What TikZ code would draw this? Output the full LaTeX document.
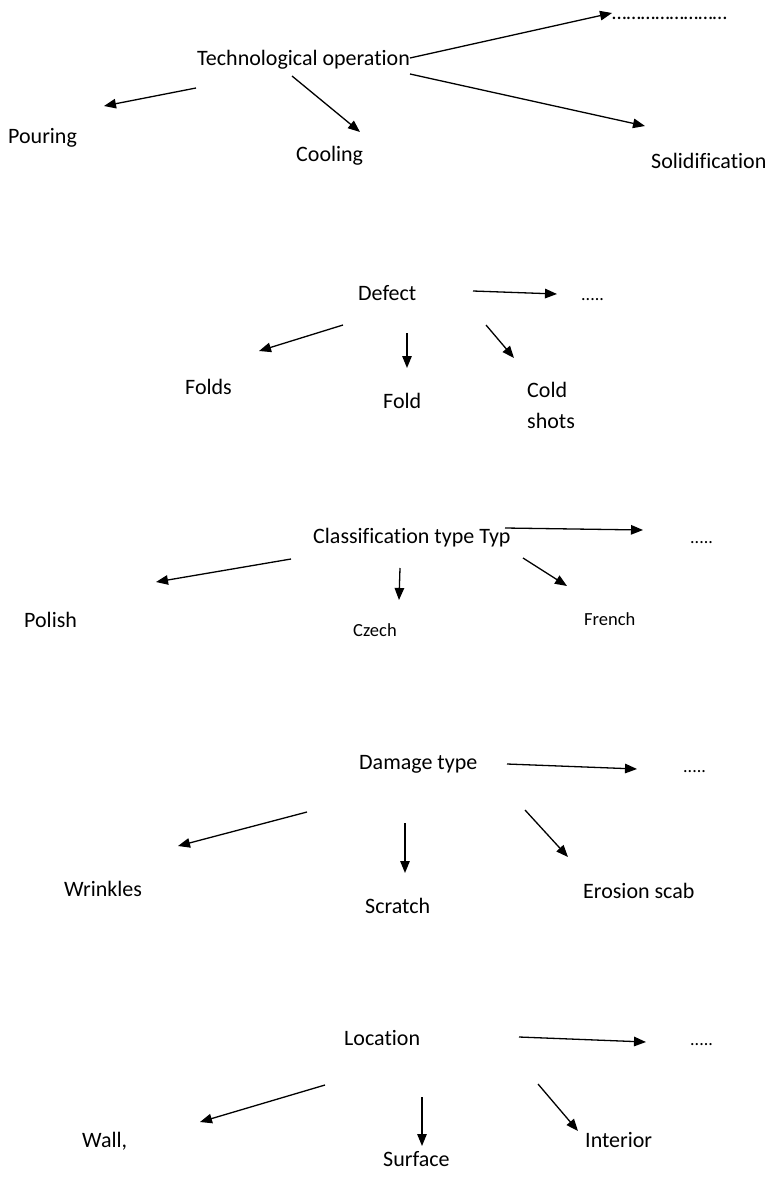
\documentclass[tikz,border=0pt]{standalone}
\usepackage{fontspec}
\setmainfont{Carlito}[Ligatures=NoCommon]
\usetikzlibrary{arrows.meta}
\begin{document}
\begin{tikzpicture}[x=1pt,y=-1pt,
  lbl/.style={anchor=base west,inner sep=0pt,font=\fontsize{22}{26}\selectfont},
  small/.style={lbl,font=\fontsize{18.5}{22}\selectfont},
  dots/.style={lbl,font=\fontsize{18}{22}\selectfont},
  arr/.style={line width=1.3pt,-{Triangle[length=12pt,width=9.5pt]}}]
\useasboundingbox[fill=white] (0,0) rectangle (768,1199);

% --- technological operation
\node[lbl] (tech) at (197,66) {Technological operation};
\node[dots,font=\fontsize{20.8}{24}\selectfont] (dots1) at (612,20) {……………………};
\node[lbl] (pouring) at (8,143) {Pouring};
\node[lbl] (cooling) at (296,161) {Cooling};
\node[lbl] (solid) at (651,168) {Solidification};
\coordinate (a1s) at (410,58);  \coordinate (a1e) at (612,13);
\coordinate (a2s) at (196,88);  \coordinate (a2e) at (104,106);
\coordinate (a3s) at (292,76);  \coordinate (a3e) at (360,132);
\coordinate (a4s) at (410,74);  \coordinate (a4e) at (645,126);
\draw[arr] (a1s) -- (a1e);
\draw[arr] (a2s) -- (a2e);
\draw[arr] (a3s) -- (a3e);
\draw[arr] (a4s) -- (a4e);

% --- defect
\node[lbl] (defect) at (358,300) {Defect};
\node[dots] (dots2) at (581,300) {.....};
\node[lbl] (folds) at (185,394) {Folds};
\node[lbl] (fold) at (383,408) {Fold};
% two-line label: the base anchor sits on the last line
\node[lbl,align=left,font=\fontsize{22}{31}\selectfont] (cold) at (527,428) {Cold\\shots};
\coordinate (b1s) at (473,291); \coordinate (b1e) at (557,294);
\coordinate (b2s) at (343,325); \coordinate (b2e) at (259,351);
\coordinate (b3s) at (407,333); \coordinate (b3e) at (407,368);
\coordinate (b4s) at (486,325); \coordinate (b4e) at (514,358);
\draw[arr] (b1s) -- (b1e);
\draw[arr] (b2s) -- (b2e);
\draw[arr] (b3s) -- (b3e);
\draw[arr] (b4s) -- (b4e);

% --- classification type
\node[lbl] (classif) at (313,543) {Classification type Typ};
\node[dots] (dots3) at (690,543) {.....};
\node[lbl] (polish) at (24,627) {Polish};
\node[small] (czech) at (353,636) {Czech};
\node[small] (french) at (584,625) {French};
\coordinate (c1s) at (505,528); \coordinate (c1e) at (643,530);
\coordinate (c2s) at (291,559); \coordinate (c2e) at (156,582);
\coordinate (c3s) at (400,568); \coordinate (c3e) at (399,600);
\coordinate (c4s) at (523,558); \coordinate (c4e) at (567,586);
\draw[arr] (c1s) -- (c1e);
\draw[arr] (c2s) -- (c2e);
\draw[arr] (c3s) -- (c3e);
\draw[arr] (c4s) -- (c4e);

% --- damage type
\node[lbl] (damage) at (359,769) {Damage type};
\node[dots] (dots4) at (683,772) {.....};
\node[lbl] (wrinkles) at (64,896) {Wrinkles};
\node[lbl] (scratch) at (365,913) {Scratch};
\node[lbl] (erosion) at (583,898) {Erosion scab};
\coordinate (d1s) at (507,764); \coordinate (d1e) at (637,769);
\coordinate (d2s) at (307,812); \coordinate (d2e) at (178,846);
\coordinate (d3s) at (405,823); \coordinate (d3e) at (405,873);
\coordinate (d4s) at (525,810); \coordinate (d4e) at (568,857);
\draw[arr] (d1s) -- (d1e);
\draw[arr] (d2s) -- (d2e);
\draw[arr] (d3s) -- (d3e);
\draw[arr] (d4s) -- (d4e);

% --- location
\node[lbl] (location) at (344,1045) {Location};
\node[dots] (dots5) at (690,1045) {.....};
\node[lbl] (wall) at (82,1147) {Wall,};
\node[lbl] (surface) at (383,1166) {Surface};
\node[lbl] (interior) at (585,1147) {Interior};
\coordinate (e1s) at (519,1037); \coordinate (e1e) at (646,1042);
\coordinate (e2s) at (325,1085); \coordinate (e2e) at (200,1122);
\coordinate (e3s) at (422,1097); \coordinate (e3e) at (422,1146);
\coordinate (e4s) at (538,1084); \coordinate (e4e) at (578,1131);
\draw[arr] (e1s) -- (e1e);
\draw[arr] (e2s) -- (e2e);
\draw[arr] (e3s) -- (e3e);
\draw[arr] (e4s) -- (e4e);
\end{tikzpicture}
\end{document}
